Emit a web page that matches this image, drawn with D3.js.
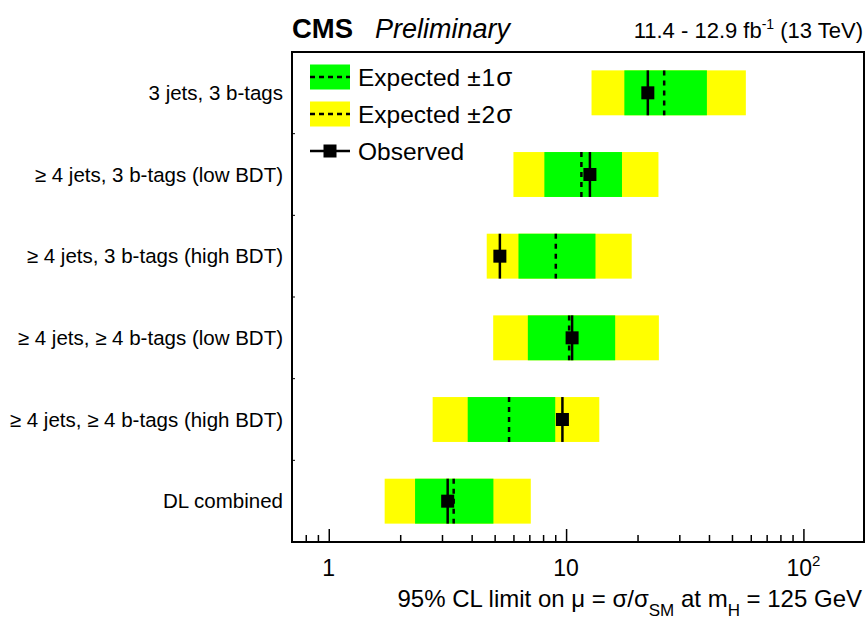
<!DOCTYPE html>
<html>
<head>
<meta charset="utf-8">
<script src="https://cdn.jsdelivr.net/npm/d3@7"></script>
<style>
  body { margin: 0; background: #fff; }
  text { font-family: "Liberation Sans", Arial, sans-serif; fill: #000; }
</style>
</head>
<body>
<svg id="chart" width="865" height="619"></svg>
<script>
// categories, top to bottom
const categories = [
  "3 jets, 3 b-tags",
  "\u2265 4 jets, 3 b-tags (low BDT)",
  "\u2265 4 jets, 3 b-tags (high BDT)",
  "\u2265 4 jets, \u2265 4 b-tags (low BDT)",
  "\u2265 4 jets, \u2265 4 b-tags (high BDT)",
  "DL combined"
];
// 95% CL upper limits on mu
const exp2Lo = [12.8, 6.0, 4.63, 4.93, 2.74, 1.72];
const exp1Lo = [17.6, 8.1, 6.3, 6.9, 3.85, 2.31];
const expMed = [25.9, 11.6, 9.05, 10.3, 5.75, 3.36];
const exp1Hi = [39.2, 17.2, 13.3, 16.1, 9.0, 4.94];
const exp2Hi = [57.2, 24.5, 18.9, 24.6, 13.8, 7.1];
const observed = [22.1, 12.6, 5.26, 10.6, 9.65, 3.17];

const majorTicks = [1, 10, 100];
const minorTicks = [0.8, 0.9, 2, 3, 4, 5, 6, 7, 8, 9, 20, 30, 40, 50, 60, 70, 80, 90];

const svg = d3.select("#chart");
const plotL = 292, plotR = 864, plotT = 52, plotB = 542;

const x = d3.scaleLog().domain([0.7, 180]).range([plotL, plotR]);
const y = d3.scaleBand().domain(categories).range([plotT, plotB]);
const boxH = y.bandwidth() * 0.55;

const rows = categories.map((c, i) => ({
  cat: c, e2lo: exp2Lo[i], e1lo: exp1Lo[i], med: expMed[i],
  e1hi: exp1Hi[i], e2hi: exp2Hi[i], obs: observed[i]
}));

const g = svg.append("g");
const rowG = g.selectAll("g.row").data(rows).enter().append("g")
  .attr("transform", d => `translate(0,${y(d.cat) + y.bandwidth() / 2})`);

rowG.append("rect")
  .attr("x", d => x(d.e2lo)).attr("width", d => x(d.e2hi) - x(d.e2lo))
  .attr("y", -boxH / 2).attr("height", boxH)
  .attr("fill", "#ffff00");
rowG.append("rect")
  .attr("x", d => x(d.e1lo)).attr("width", d => x(d.e1hi) - x(d.e1lo))
  .attr("y", -boxH / 2).attr("height", boxH)
  .attr("fill", "#00ff00");
rowG.append("line")
  .attr("x1", d => x(d.med)).attr("x2", d => x(d.med))
  .attr("y1", -boxH / 2).attr("y2", boxH / 2)
  .attr("stroke", "#000").attr("stroke-width", 2.5).attr("stroke-dasharray", "5,5");
rowG.append("line")
  .attr("x1", d => x(d.obs)).attr("x2", d => x(d.obs))
  .attr("y1", -boxH / 2).attr("y2", boxH / 2)
  .attr("stroke", "#000").attr("stroke-width", 2.5);
rowG.append("rect")
  .attr("x", d => x(d.obs) - 6.5).attr("y", -6.5)
  .attr("width", 13).attr("height", 13).attr("fill", "#000");

// category labels
g.selectAll("text.cat").data(categories).enter().append("text")
  .attr("x", 283).attr("y", d => y(d) + y.bandwidth() / 2 + 7)
  .attr("text-anchor", "end").attr("font-size", 20.5)
  .text(d => d);

// x axis ticks (pointing into the frame)
const minorAxis = d3.axisBottom(x).tickValues(minorTicks).tickSize(-7).tickFormat("");
const majorAxis = d3.axisBottom(x).tickValues(majorTicks).tickSize(-13).tickFormat("");
[minorAxis, majorAxis].forEach(ax => {
  const a = svg.append("g").attr("transform", `translate(0,${plotB})`).call(ax);
  a.select(".domain").remove();
  a.selectAll("line").attr("stroke", "#000").attr("stroke-width", 1.5);
});

// left axis small ticks at category boundaries
svg.selectAll("line.ytick").data(categories.slice(1)).enter().append("line")
  .attr("x1", plotL).attr("x2", plotL + 3)
  .attr("y1", d => y(d)).attr("y2", d => y(d))
  .attr("stroke", "#000").attr("stroke-width", 1);

// tick labels
const tl = svg.selectAll("text.tl").data(majorTicks).enter().append("text")
  .attr("x", d => x(d)).attr("y", 576)
  .attr("text-anchor", "middle").attr("font-size", 23);
tl.each(function (d) {
  const t = d3.select(this);
  if (d === 100) {
    t.append("tspan").text("10");
    t.append("tspan").attr("dy", -10).attr("font-size", 15).text("2");
  } else {
    t.text(d);
  }
});

// frame
svg.append("rect").attr("x", plotL).attr("y", plotT)
  .attr("width", plotR - plotL).attr("height", plotB - plotT)
  .attr("fill", "none").attr("stroke", "#000").attr("stroke-width", 2);

// axis title
const xt = svg.append("text").attr("x", 862).attr("y", 607)
  .attr("text-anchor", "end").attr("font-size", 24);
xt.append("tspan").text("95% CL limit on \u03bc = \u03c3/\u03c3");
xt.append("tspan").attr("dy", 9).attr("font-size", 17).text("SM");
xt.append("tspan").attr("dy", -9).text(" at m");
xt.append("tspan").attr("dy", 9).attr("font-size", 17).text("H");
xt.append("tspan").attr("dy", -9).text(" = 125 GeV");

// header
svg.append("text").attr("x", 292).attr("y", 38)
  .attr("font-size", 27.5).attr("font-weight", "bold").text("CMS");
svg.append("text").attr("x", 375).attr("y", 38)
  .attr("font-size", 27).attr("font-style", "italic").text("Preliminary");
const lumi = svg.append("text").attr("x", 863).attr("y", 38)
  .attr("text-anchor", "end").attr("font-size", 22);
lumi.append("tspan").text("11.4 - 12.9 fb");
lumi.append("tspan").attr("dy", -9).attr("font-size", 14).text("-1");
lumi.append("tspan").attr("dy", 9).text(" (13 TeV)");

// legend
const legend = [
  { label: "Expected", sym: "1", fill: "#00ff00", type: "band" },
  { label: "Expected", sym: "2", fill: "#ffff00", type: "band" },
  { label: "Observed", sym: null, fill: null, type: "obs" }
];
const lg = svg.append("g").selectAll("g").data(legend).enter().append("g")
  .attr("transform", (d, i) => `translate(310,${77 + i * 37})`);
lg.filter(d => d.type === "band").append("rect")
  .attr("x", 0).attr("y", -12.5).attr("width", 40).attr("height", 25)
  .attr("fill", d => d.fill);
lg.filter(d => d.type === "band").append("line")
  .attr("x1", 0).attr("x2", 40).attr("y1", 0).attr("y2", 0)
  .attr("stroke", "#000").attr("stroke-width", 2.5).attr("stroke-dasharray", "5,4");
lg.filter(d => d.type === "obs").append("line")
  .attr("x1", 0).attr("x2", 40).attr("y1", 0).attr("y2", 0)
  .attr("stroke", "#000").attr("stroke-width", 2.5);
lg.filter(d => d.type === "obs").append("rect")
  .attr("x", 13.5).attr("y", -6.5).attr("width", 13).attr("height", 13).attr("fill", "#000");
const lt = lg.append("text").attr("x", 48).attr("y", 8.5).attr("font-size", 24.5);
lt.append("tspan").text(d => d.label);
lt.filter(d => d.sym).append("tspan").attr("dx", 7).text("\u00b1");
lt.filter(d => d.sym).append("tspan").attr("dx", 1).text(d => d.sym);
lt.filter(d => d.sym).append("tspan").attr("dx", 1).attr("font-size", 26).text("\u03c3");
</script>
</body>
</html>
